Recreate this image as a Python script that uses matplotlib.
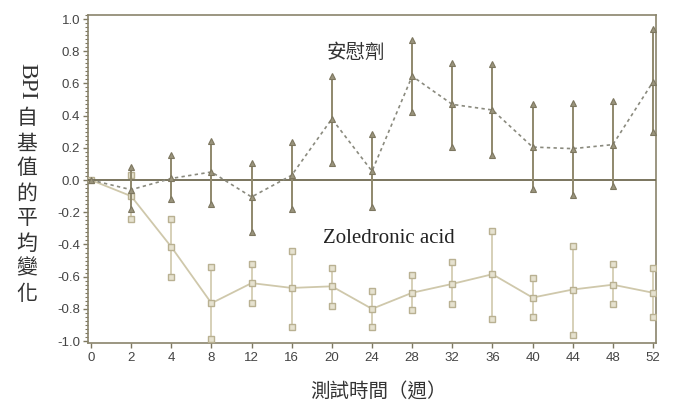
import numpy as np
import matplotlib
matplotlib.use("Agg")
import matplotlib.pyplot as plt
from matplotlib.ticker import MultipleLocator, FixedLocator

nan = np.nan
weeks = ["0", "2", "4", "8", "12", "16", "20", "24", "28", "32", "36", "40", "44", "48", "52"]

placebo_mean = [0.0, -0.06, 0.01, 0.05, -0.105, 0.03, 0.38, 0.055, 0.645, 0.47, 0.435, 0.205, 0.195, 0.22, 0.61]
placebo_upper = [nan, 0.08, 0.155, 0.24, 0.105, 0.235, 0.645, 0.285, 0.87, 0.73, 0.72, 0.47, 0.48, 0.49, 0.94]
placebo_lower = [nan, -0.18, -0.115, -0.15, -0.32, -0.18, 0.105, -0.17, 0.42, 0.205, 0.155, -0.055, -0.09, -0.035, 0.30]

zol_mean = [0.0, -0.10, -0.415, -0.765, -0.64, -0.67, -0.66, -0.80, -0.70, -0.645, -0.585, -0.73, -0.68, -0.65, -0.70]
zol_upper = [nan, 0.03, -0.24, -0.54, -0.52, -0.44, -0.545, -0.69, -0.59, -0.51, -0.315, -0.61, -0.41, -0.52, -0.545]
zol_lower = [nan, -0.24, -0.60, -0.99, -0.765, -0.91, -0.78, -0.91, -0.81, -0.77, -0.86, -0.85, -0.96, -0.77, -0.85]

yticks = [1.0, 0.8, 0.6, 0.4, 0.2, 0.0, -0.2, -0.4, -0.6, -0.8, -1.0]
ytick_labels = ["1.0", "0.8", "0.6", "0.4", "0.2", "0.0", "-0.2", "-0.4", "-0.6", "-0.8", "-1.0"]

label_placebo = "安慰劑"
label_zol = "Zoledronic acid"
xlabel = "測試時間（週）"
ylabel_latin = "BPI"
ylabel_cjk = "自基值的平均變化"

CJK = ["Noto Sans CJK TC", "DejaVu Sans"]
SERIF = ["Liberation Serif", "DejaVu Serif"]
SANS = ["Liberation Sans", "DejaVu Sans"]

fig = plt.figure(figsize=(6.76, 4.03), dpi=100)
ax = fig.add_axes([88/676, 1-343/403, (656-88)/676, (343-15)/403])

x = np.arange(len(weeks))
pm = np.array(placebo_mean); pu = np.array(placebo_upper); pl = np.array(placebo_lower)
zm = np.array(zol_mean); zu = np.array(zol_upper); zl = np.array(zol_lower)

# zoledronic acid
zc_line = "#cfc8ab"
zc_edge = "#b9b192"
ax.errorbar(x, zm, yerr=[zm - zl, zu - zm], fmt="none", ecolor=zc_line, elinewidth=1.2, capsize=0, zorder=2)
ax.plot(x, zm, color=zc_line, lw=1.3, zorder=2)
for arr in (zu, zl, zm):
    ax.plot(x, arr, ls="none", marker="s", ms=5, mfc="#e6e2d0", mec=zc_edge, mew=1.0, zorder=3)

# placebo
pc_bar = "#8f886c"
ax.errorbar(x, pm, yerr=[pm - pl, pu - pm], fmt="none", ecolor=pc_bar, elinewidth=1.4, capsize=0, zorder=4)
ax.plot(x, pm, color="#8a8a7e", lw=1.2, ls=(0, (2, 2)), zorder=4)
for arr in (pu, pl, pm):
    ax.plot(x, arr, ls="none", marker="^", ms=4.2, mfc="#9a947c", mec="#7d7760", mew=0.8, zorder=5)

ax.axhline(0, color="#6f6a52", lw=1.3, zorder=3)

ax.set_xlim(-0.075, 14.075)
ax.set_ylim(-1.012, 1.025)
ax.set_xticks(x)
ax.set_xticklabels(weeks, fontsize=9.5, family=SANS, color="#444444")
ax.yaxis.set_major_locator(FixedLocator(yticks))
ax.set_yticklabels(ytick_labels, fontsize=9.5, family=SANS, color="#444444")
ax.yaxis.set_minor_locator(MultipleLocator(0.025))
ax.tick_params(axis="both", which="major", direction="out", length=3.5, width=1.0, color="#7d7760", pad=2)
ax.tick_params(axis="y", which="minor", direction="out", length=2, width=0.8, color="#7d7760")
ax.tick_params(axis="x", pad=3)
for s in ax.spines.values():
    s.set_color("#8a846c")
    s.set_linewidth(1.2)

# annotations
ax.text(6.6, 0.79, label_placebo, fontsize=14, family=CJK, color="#333333", ha="center", va="center")
ax.text(7.42, -0.36, label_zol, fontsize=15, family=SERIF, color="#222222", ha="center", va="center")

# axis labels
fig.text(378/676, 1-392/403, xlabel, fontsize=14, family=CJK, color="#333333", ha="center", va="center")
fig.text(27/676, 1-81/403, ylabel_latin, fontsize=17, family=SERIF, color="#333333", ha="center", va="center", rotation=-90)
for i, ch in enumerate(ylabel_cjk):
    yc = 118.5 + 25*i
    fig.text(27/676, 1-yc/403, ch, fontsize=15, family=CJK, color="#333333", ha="center", va="center")

fig.savefig("out.png", dpi=100)
